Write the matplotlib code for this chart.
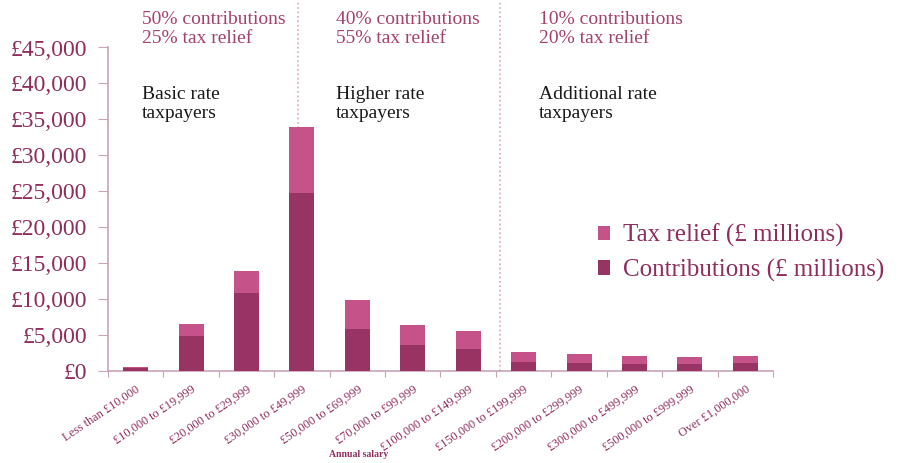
import matplotlib.pyplot as plt
import numpy as np

categories = ['Less than £10,000', '£10,000 to £19,999', '£20,000 to £29,999',
              '£30,000 to £49,999', '£50,000 to £69,999', '£70,000 to £99,999',
              '£100,000 to £149,999', '£150,000 to £199,999', '£200,000 to £299,999',
              '£300,000 to £499,999', '£500,000 to £999,999', 'Over £1,000,000']
contributions = [400, 4900, 10800, 24700, 5800, 3600, 3100, 1300, 1100, 950, 950, 1100]
tax_relief = [200, 1700, 3050, 9200, 4100, 2800, 2500, 1350, 1300, 1200, 950, 1050]
yticks = [0, 5000, 10000, 15000, 20000, 25000, 30000, 35000, 40000, 45000]

dark = '#973464'
light = '#c6528a'
txt = '#8e2d5e'
spine = '#c9a3b7'

plt.rcParams['font.family'] = ['Liberation Serif', 'DejaVu Serif']

fig = plt.figure(figsize=(9.03, 4.63), dpi=100)
ax = fig.add_axes([108 / 903, 1 - 371 / 463, 665 / 903, 323.5 / 463])

x = np.arange(len(categories))
ax.bar(x, contributions, width=0.45, color=dark, label='Contributions (£ millions)', zorder=3)
ax.bar(x, tax_relief, width=0.45, bottom=contributions, color=light,
       label='Tax relief (£ millions)', zorder=3)

# dotted separators between tax bands
for xv in [2.93, 6.58]:
    ax.plot([xv, xv], [0, 51700], color='#d9a6c0', linestyle=':', linewidth=1.2,
            clip_on=False, zorder=1)

ax.set_xlim(-0.5, 11.5)
ax.set_ylim(0, 45000)
ax.set_yticks(yticks)
ax.set_yticklabels(['£0' if v == 0 else '£{:,}'.format(v) for v in yticks],
                   fontsize=17, color=txt)
ax.tick_params(axis='y', length=7, color=spine, pad=8)

ax.set_xticks(np.arange(-0.5, 12, 1))
ax.set_xticklabels([])
ax.tick_params(axis='x', which='major', length=4, color=spine)
ax.set_xticks(x, minor=True)
ax.set_xticklabels(categories, minor=True, rotation=34, ha='right',
                   rotation_mode='anchor', fontsize=8.8, color=txt)
ax.tick_params(axis='x', which='minor', length=0, pad=9)

for s in ['top', 'right']:
    ax.spines[s].set_visible(False)
for s in ['left', 'bottom']:
    ax.spines[s].set_color(spine)
    ax.spines[s].set_linewidth(1.2)

# band annotations
bands = [(142, '50% contributions\n25% tax relief', 'Basic rate\ntaxpayers'),
         (336, '40% contributions\n55% tax relief', 'Higher rate\ntaxpayers'),
         (539, '10% contributions\n20% tax relief', 'Additional rate\ntaxpayers')]
for px, top, bottom in bands:
    fig.text(px / 903, 1 - 11 / 463, top, fontsize=14, color='#a3416f',
             va='top', ha='left', linespacing=1.12)
    fig.text(px / 903, 1 - 86 / 463, bottom, fontsize=14, color='#1a1a1a',
             va='top', ha='left', linespacing=1.12)

handles, labels = ax.get_legend_handles_labels()
leg = fig.legend(handles[::-1], labels[::-1], loc='upper left',
                 bbox_to_anchor=(598 / 903, 1 - 224 / 463), frameon=False,
                 fontsize=18, handlelength=0.5, handleheight=0.5,
                 handletextpad=0.5, labelspacing=0.45, borderpad=0, borderaxespad=0)
for t in leg.get_texts():
    t.set_color(txt)

fig.text(359 / 903, 4 / 463, 'Annual salary', fontsize=7, color=txt, fontweight='bold',
         ha='center', va='bottom')

fig.savefig('out.png', dpi=100)
